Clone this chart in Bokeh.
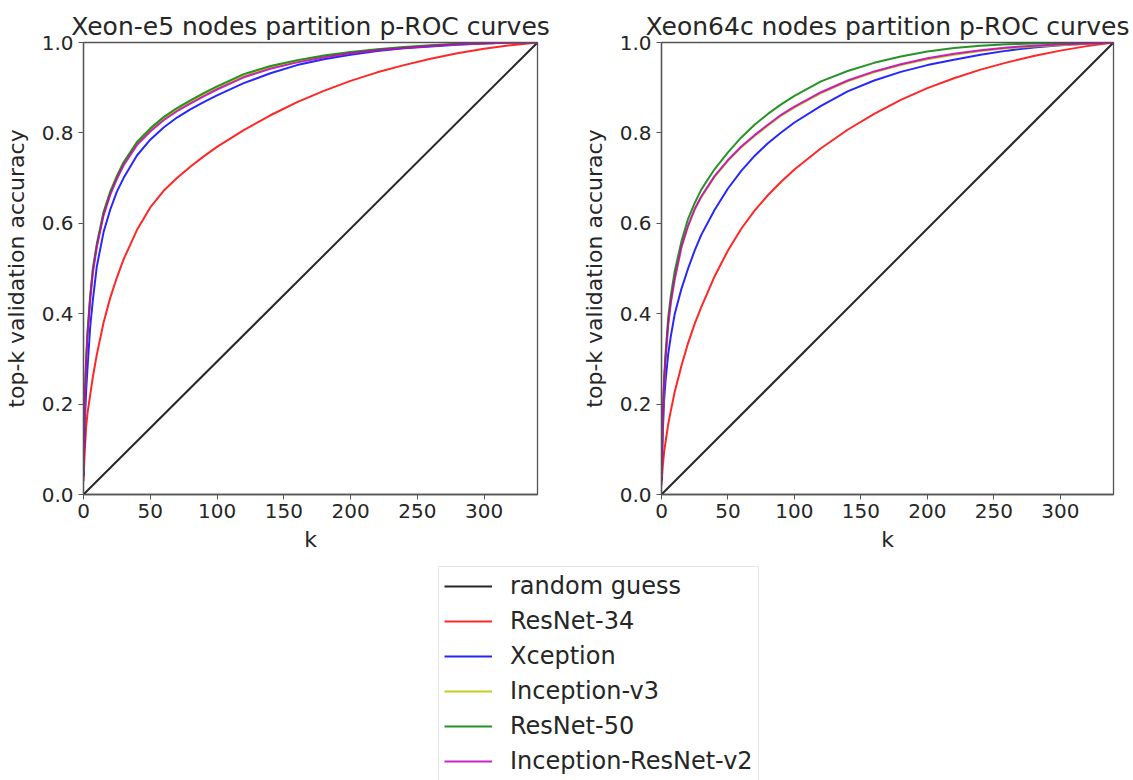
from bokeh.plotting import figure
from bokeh.layouts import column, row
from bokeh.models import Range1d, FixedTicker, PrintfTickFormatter, Legend, LegendItem
from bokeh.embed import file_html
from bokeh.resources import INLINE

# ---------------- data ----------------
K = [0, 1, 2, 3, 5, 7, 10, 15, 20, 25, 30, 40, 50, 60, 70, 80, 90, 100,
     120, 140, 160, 180, 200, 220, 240, 260, 280, 300, 320, 340]

random_k = [0, 340]
random_acc = [0.0, 1.0]

# Xeon-e5 partition
e5_resnet34 = [0.03, 0.10, 0.15, 0.18, 0.22, 0.26, 0.31, 0.38, 0.435, 0.48, 0.52, 0.585, 0.635, 0.672,
               0.700, 0.725, 0.748, 0.769, 0.806, 0.839, 0.868, 0.893, 0.915, 0.934, 0.950, 0.964, 0.976,
               0.986, 0.994, 1.0]
e5_xception = [0.04, 0.16, 0.23, 0.28, 0.37, 0.43, 0.505, 0.58, 0.63, 0.67, 0.70, 0.75, 0.785, 0.812,
               0.834, 0.852, 0.868, 0.883, 0.91, 0.932, 0.95, 0.963, 0.973, 0.981, 0.987, 0.991, 0.995,
               0.998, 1.0, 1.0]
e5_inception_v3 = [0.05, 0.215, 0.295, 0.355, 0.435, 0.495, 0.551, 0.621, 0.666, 0.701, 0.731, 0.776,
                   0.806, 0.831, 0.851, 0.868, 0.884, 0.899, 0.926, 0.945, 0.958, 0.969, 0.977, 0.984,
                   0.989, 0.993, 0.996, 0.998, 1.0, 1.0]
e5_resnet50 = [0.05, 0.22, 0.30, 0.36, 0.44, 0.50, 0.555, 0.625, 0.67, 0.705, 0.735, 0.78, 0.81, 0.835,
               0.855, 0.872, 0.888, 0.903, 0.93, 0.948, 0.961, 0.971, 0.979, 0.985, 0.99, 0.994, 0.997,
               0.999, 1.0, 1.0]
e5_inc_resnet_v2 = [0.05, 0.21, 0.29, 0.35, 0.43, 0.49, 0.548, 0.617, 0.663, 0.698, 0.728, 0.773, 0.803,
                    0.828, 0.848, 0.865, 0.881, 0.896, 0.923, 0.942, 0.956, 0.967, 0.976, 0.983, 0.988,
                    0.992, 0.996, 0.998, 1.0, 1.0]

# Xeon64c partition
x64_resnet34 = [0.02, 0.065, 0.095, 0.115, 0.155, 0.185, 0.228, 0.285, 0.335, 0.378, 0.415, 0.483, 0.54,
                0.588, 0.628, 0.662, 0.692, 0.719, 0.766, 0.807, 0.842, 0.873, 0.899, 0.921, 0.940, 0.956,
                0.970, 0.982, 0.992, 1.0]
x64_xception = [0.03, 0.14, 0.21, 0.25, 0.31, 0.35, 0.40, 0.455, 0.50, 0.54, 0.575, 0.630, 0.677, 0.716,
                0.749, 0.777, 0.801, 0.823, 0.86, 0.892, 0.916, 0.935, 0.95, 0.962, 0.973, 0.982, 0.989,
                0.994, 0.997, 1.0]
x64_inception_v3 = [0.04, 0.168, 0.248, 0.298, 0.373, 0.423, 0.476, 0.546, 0.593, 0.630, 0.658, 0.703,
                    0.738, 0.768, 0.793, 0.816, 0.838, 0.856, 0.888, 0.914, 0.934, 0.950, 0.963, 0.973,
                    0.981, 0.987, 0.991, 0.994, 0.997, 1.0]
x64_resnet50 = [0.04, 0.18, 0.26, 0.31, 0.39, 0.44, 0.495, 0.56, 0.61, 0.645, 0.675, 0.72, 0.757, 0.79,
                0.818, 0.842, 0.863, 0.882, 0.914, 0.937, 0.955, 0.969, 0.98, 0.988, 0.993, 0.996, 0.998,
                0.999, 1.0, 1.0]
x64_inc_resnet_v2 = [0.04, 0.17, 0.25, 0.30, 0.375, 0.425, 0.478, 0.548, 0.595, 0.632, 0.66, 0.705, 0.74,
                     0.77, 0.795, 0.818, 0.84, 0.858, 0.89, 0.916, 0.936, 0.952, 0.965, 0.975, 0.983,
                     0.989, 0.993, 0.996, 0.998, 1.0]

series_names = ["ResNet-34", "Xception", "Inception-v3", "ResNet-50", "Inception-ResNet-v2"]
series_colors = ["#ff0000", "#0000ff", "#bfbf00", "#008000", "#bf00bf"]
e5_series = [e5_resnet34, e5_xception, e5_inception_v3, e5_resnet50, e5_inc_resnet_v2]
x64_series = [x64_resnet34, x64_xception, x64_inception_v3, x64_resnet50, x64_inc_resnet_v2]

titles = ["Xeon-e5 nodes partition p-ROC curves", "Xeon64c nodes partition p-ROC curves"]
x_ticks = [0, 50, 100, 150, 200, 250, 300]
y_ticks = [0.0, 0.2, 0.4, 0.6, 0.8, 1.0]

FONT = "DejaVu Sans"
TEXT = "#262626"
SPINE = "#555555"
LW = 2.0
ALPHA = 0.85


def make_panel(title, series, width, border_left, border_right):
    p = figure(width=width, height=560, output_backend="svg", toolbar_location=None,
               x_range=Range1d(0, 340), y_range=Range1d(0, 1),
               min_border_left=border_left, min_border_right=border_right,
               min_border_top=42, min_border_bottom=66)
    p.title.text = title
    p.title.text_font = FONT
    p.title.text_font_size = "25px"
    p.title.text_font_style = "normal"
    p.title.text_color = TEXT
    p.title.align = "center"
    p.title.standoff = 3
    p.xgrid.visible = False
    p.ygrid.visible = False
    p.outline_line_color = SPINE
    p.outline_line_width = 1.3
    p.background_fill_color = "white"
    p.border_fill_color = "white"

    p.line(random_k, random_acc, line_color="#000000", line_width=LW, line_alpha=ALPHA)
    for vals, col in zip(series, series_colors):
        p.line(K, vals, line_color=col, line_width=LW, line_alpha=ALPHA)

    for ax in (p.xaxis[0], p.yaxis[0]):
        ax.axis_line_color = SPINE
        ax.axis_line_width = 1.3
        ax.major_tick_line_color = SPINE
        ax.major_tick_out = 5
        ax.major_tick_in = 0
        ax.minor_tick_line_color = None
        ax.major_label_text_font = FONT
        ax.major_label_text_font_size = "20px"
        ax.major_label_text_color = TEXT
        ax.axis_label_text_font = FONT
        ax.axis_label_text_font_size = "22px"
        ax.axis_label_text_font_style = "normal"
        ax.axis_label_text_color = TEXT
    p.xaxis[0].ticker = FixedTicker(ticks=x_ticks)
    p.yaxis[0].ticker = FixedTicker(ticks=y_ticks)
    p.yaxis[0].formatter = PrintfTickFormatter(format="%.1f")
    p.xaxis[0].axis_label = "k"
    p.yaxis[0].axis_label = "top-k validation accuracy"
    p.xaxis[0].major_label_standoff = 4
    p.xaxis[0].axis_label_standoff = 6
    p.yaxis[0].major_label_standoff = 5
    p.yaxis[0].axis_label_standoff = 10
    return p


p1 = make_panel(titles[0], e5_series, 560, 83, 23)
p2 = make_panel(titles[1], x64_series, 573, 101, 20)

# legend panel (legend-only lines live outside the visible range)
pl = figure(width=1133, height=220, output_backend="svg", toolbar_location=None,
            x_range=Range1d(0, 1), y_range=Range1d(0, 1),
            x_axis_location=None, y_axis_location=None,
            min_border=0, outline_line_color=None)
pl.xgrid.visible = False
pl.ygrid.visible = False
hidden_x = [-10, -9]
hidden_y = [-10, -9]
items = []
r0 = pl.line(hidden_x, hidden_y, line_color="#000000", line_width=LW, line_alpha=ALPHA)
items.append(LegendItem(label="random guess", renderers=[r0]))
for name, col in zip(series_names, series_colors):
    r = pl.line(hidden_x, hidden_y, line_color=col, line_width=LW, line_alpha=ALPHA)
    items.append(LegendItem(label=name, renderers=[r]))

leg = Legend(items=items, location=(438, -1), orientation="vertical",
             label_text_font=FONT, label_text_font_size="24px", label_text_color=TEXT,
             glyph_width=48, glyph_height=28, label_height=28, spacing=7, padding=5,
             label_standoff=18, border_line_color="#cccccc", border_line_width=1.3,
             background_fill_color="white", background_fill_alpha=1.0, margin=0)
pl.add_layout(leg, "center")

layout = column(row(p1, p2), pl)
open("out.html", "w").write(file_html(layout, INLINE))
